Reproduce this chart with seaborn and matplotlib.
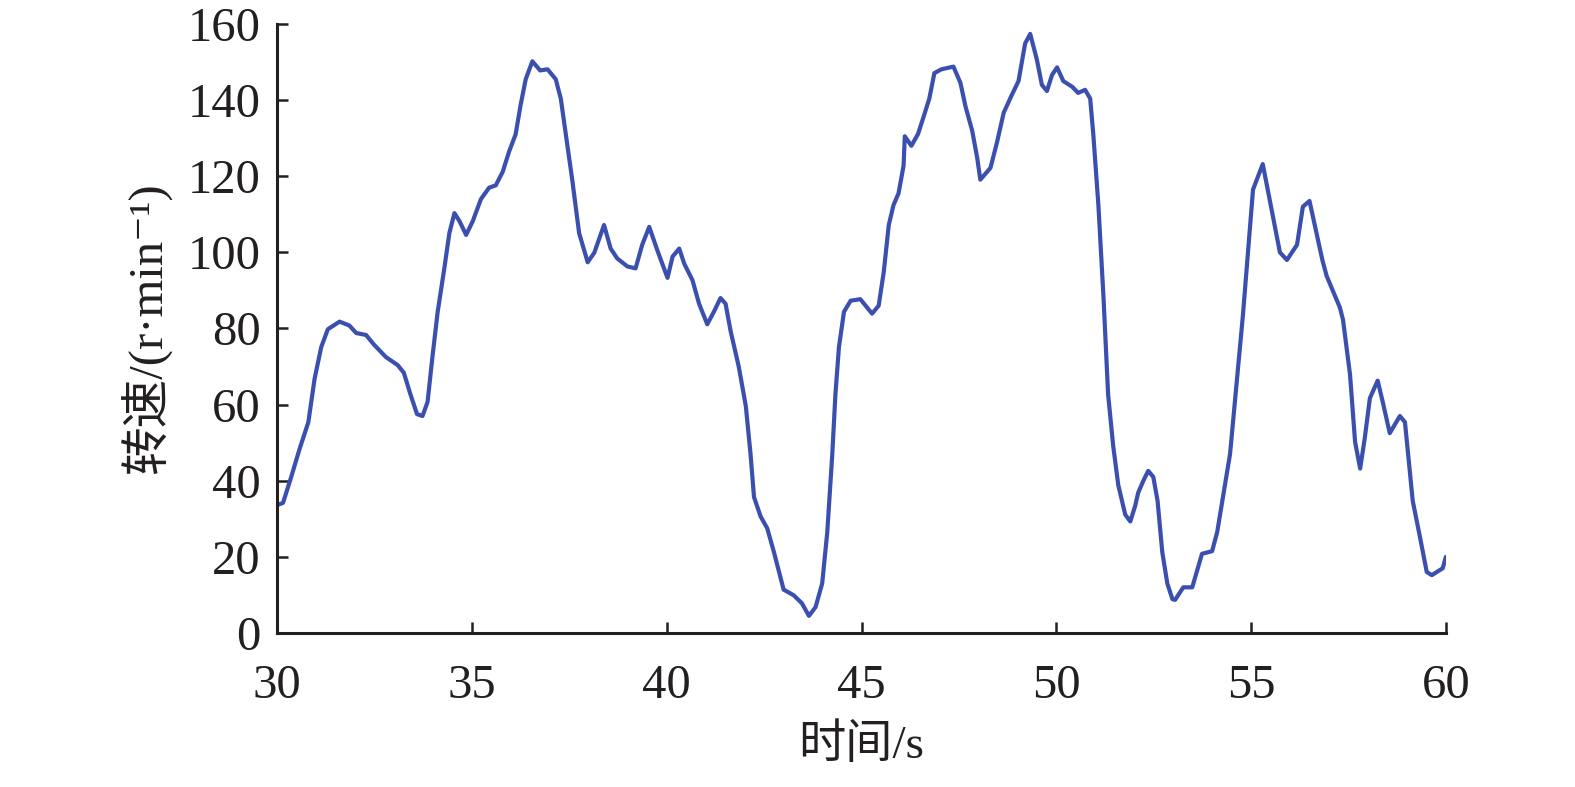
import matplotlib
matplotlib.use("Agg")
import matplotlib.pyplot as plt
import seaborn as sns
import pandas as pd

# time (s) and speed (r/min)
time_s = [30.0, 30.15, 30.36, 30.57, 30.8, 30.96, 31.13, 31.3, 31.6, 31.85, 32.03, 32.28, 32.49, 32.79,
          33.09, 33.25, 33.42, 33.59, 33.73, 33.86, 33.99, 34.12, 34.29, 34.42, 34.55, 34.68, 34.85,
          35.02, 35.23, 35.44, 35.61, 35.79, 35.95, 36.12, 36.25, 36.38, 36.55, 36.75, 36.94, 37.15,
          37.28, 37.41, 37.58, 37.75, 37.97, 38.14, 38.39, 38.56, 38.73, 38.99, 39.2, 39.37, 39.55,
          39.76, 40.02, 40.15, 40.32, 40.45, 40.66, 40.83, 41.04, 41.21, 41.38, 41.51, 41.64, 41.85,
          42.03, 42.15, 42.24, 42.41, 42.58, 42.75, 43.0, 43.26, 43.47, 43.65, 43.82, 43.99, 44.12,
          44.25, 44.33, 44.42, 44.55, 44.72, 44.97, 45.27, 45.44, 45.57, 45.7, 45.82, 45.95, 46.08,
          46.11, 46.28, 46.45, 46.58, 46.74, 46.87, 47.05, 47.36, 47.54, 47.67, 47.84, 47.97, 48.05,
          48.31, 48.48, 48.65, 48.86, 49.03, 49.2, 49.33, 49.5, 49.63, 49.76, 49.89, 50.02, 50.18,
          50.41, 50.56, 50.74, 50.87, 50.95, 51.08, 51.21, 51.33, 51.46, 51.59, 51.77, 51.9, 52.03,
          52.1, 52.23, 52.36, 52.49, 52.6, 52.72, 52.85, 52.98, 53.05, 53.26, 53.49, 53.74, 54.0,
          54.13, 54.46, 54.79, 55.05, 55.3, 55.74, 55.92, 56.18, 56.33, 56.5, 56.83, 56.94, 57.28,
          57.36, 57.54, 57.67, 57.8, 57.92, 58.05, 58.25, 58.38, 58.56, 58.82, 58.95, 59.15, 59.33,
          59.51, 59.64, 59.92, 60.0]
speed = [33.6, 34.2, 41.0, 48.2, 55.4, 66.8, 75.1, 79.8, 81.8, 80.8, 78.8, 78.3, 75.7, 72.5,
         70.4, 68.4, 62.7, 57.5, 57.0, 60.7, 73.0, 84.4, 95.8, 105.1, 110.3, 108.2, 104.6,
         108.2, 114.0, 117.0, 117.6, 121.2, 126.4, 131.0, 138.8, 145.5, 150.2, 147.8, 148.1, 145.5,
         140.4, 131.0, 118.6, 105.1, 97.4, 99.9, 107.2, 101.0, 98.4, 96.3, 95.8, 102.0, 106.7,
         100.5, 93.3, 98.9, 101.0, 97.0, 92.7, 86.5, 81.1, 84.4, 88.0, 86.5, 79.3, 69.9,
         59.6, 47.1, 35.7, 30.6, 27.5, 21.3, 11.4, 9.9, 7.8, 4.5, 6.8, 13.0, 26.4,
         47.1, 62.7, 75.1, 84.4, 87.3, 87.7, 83.9, 86.0, 94.8, 107.2, 112.4, 115.5, 122.8,
         130.5, 128.0, 131.1, 135.2, 140.4, 147.1, 148.1, 148.8, 144.5, 138.3, 132.0, 124.8, 119.1,
         122.2, 129.0, 136.7, 141.4, 145.0, 154.9, 157.4, 150.7, 144.0, 142.4, 146.6, 148.6, 145.0,
         143.5, 141.9, 142.7, 140.4, 131.0, 112.5, 88.5, 62.7, 49.2, 38.9, 31.1, 29.3, 33.6,
         36.8, 39.9, 42.6, 41.0, 34.7, 21.3, 13.0, 8.9, 8.7, 12.0, 12.0, 20.8, 21.5,
         26.5, 47.0, 83.4, 116.5, 123.2, 100.0, 98.0, 102.0, 112.0, 113.5, 98.0, 93.8, 85.5,
         82.3, 67.9, 50.2, 43.2, 51.3, 61.7, 66.3, 60.7, 52.5, 57.0, 55.4, 34.7, 25.5,
         16.0, 15.2, 17.0, 20.0]

x_ticks = [30, 35, 40, 45, 50, 55, 60]
y_ticks = [0, 20, 40, 60, 80, 100, 120, 140, 160]

df = pd.DataFrame({"t": time_s, "v": speed})

sns.set_theme(style="ticks")
plt.rcParams['font.family'] = ['Liberation Serif', 'Noto Sans CJK SC', 'DejaVu Sans']

fig = plt.figure(figsize=(15.75, 7.87), dpi=100)
ax = fig.add_axes([0.176, 0.1957, 0.742, 0.7738])

sns.lineplot(data=df, x="t", y="v", ax=ax, color="#3a4fae", linewidth=3.0)
for ln in ax.get_lines():
    ln.set_solid_joinstyle('round')
    ln.set_solid_capstyle('round')

ax.set_xlim(30, 60)
ax.set_ylim(0, 160)
ax.set_xticks(x_ticks)
ax.set_yticks(y_ticks)
ax.tick_params(axis='both', direction='in', length=8, width=1.8, colors='#231f20',
               labelsize=35, labelcolor='#231f20')
ax.tick_params(axis='x', pad=22)
ax.tick_params(axis='y', pad=12)
for side in ['top', 'right']:
    ax.spines[side].set_visible(False)
for side in ['left', 'bottom']:
    ax.spines[side].set_linewidth(2.2)
    ax.spines[side].set_color('#231f20')

ax.set_xlabel("时间/s", fontsize=34, color='#231f20', labelpad=12)
ax.set_ylabel("转速/(r·min⁻¹)", fontsize=35, color='#231f20', labelpad=12)

fig.savefig("out.png", dpi=100)
